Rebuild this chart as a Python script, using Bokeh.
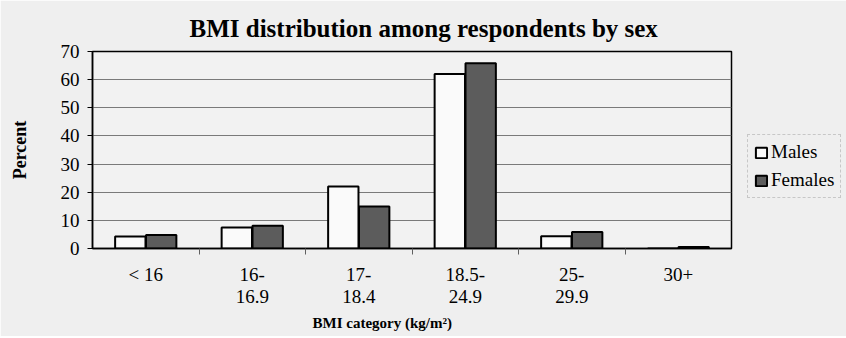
import numpy as np
from bokeh.plotting import figure
from bokeh.models import (ColumnDataSource, FixedTicker, Range1d, Legend, LegendItem, Title)
from bokeh.embed import file_html
from bokeh.resources import INLINE

# ---- data ----
categories = ["< 16", "16-\n16.9", "17-\n18.4", "18.5-\n24.9", "25-\n29.9", "30+"]
males = [4.3, 7.5, 22.0, 62.0, 4.35, 0.0]
females = [4.8, 8.1, 14.9, 65.8, 5.9, 0.5]
series_names = ["Males", "Females"]
y_ticks = [0, 10, 20, 30, 40, 50, 60, 70]

FONT = "Liberation Serif"
BG = "#efefef"

idx = np.arange(len(categories))
centers = idx + 0.5
off = 0.145
bw = 0.285

p = figure(frame_width=639, frame_height=197, output_backend="svg", toolbar_location=None,
           x_range=Range1d(0, len(categories)), y_range=Range1d(0, 70),
           min_border_left=92, min_border_right=115, min_border_top=51,
           min_border_bottom=88)
p.background_fill_color = "#f2f2f2"
p.border_fill_color = BG
p.outline_line_color = "black"
p.outline_line_width = 1.5

src_m = ColumnDataSource(dict(x=centers - off, top=males))
src_f = ColumnDataSource(dict(x=centers + off, top=females))
rm = p.vbar(x="x", top="top", width=bw, source=src_m, fill_color="#fafafa",
            line_color="black", line_width=2)
rf = p.vbar(x="x", top="top", width=bw, source=src_f, fill_color="#5c5c5c",
            line_color="black", line_width=2)

# grid
p.xgrid.grid_line_color = None
p.ygrid.grid_line_color = "#7a7a7a"
p.ygrid.grid_line_width = 1

# y axis
p.yaxis.ticker = FixedTicker(ticks=y_ticks)
p.yaxis.major_label_text_font = FONT
p.yaxis.major_label_text_font_size = "19px"
p.yaxis.major_label_text_color = "black"
p.yaxis.major_tick_out = 5
p.yaxis.major_tick_in = 0
p.yaxis.minor_tick_line_color = None
p.yaxis.axis_line_color = "black"
p.yaxis.axis_line_width = 1.5
p.yaxis.major_label_standoff = 8
p.yaxis.axis_label = "Percent"
p.yaxis.axis_label_text_font = FONT
p.yaxis.axis_label_text_font_style = "bold"
p.yaxis.axis_label_text_font_size = "18px"
p.yaxis.axis_label_text_color = "black"
p.yaxis.axis_label_standoff = 28

# x axis
p.xaxis.ticker = FixedTicker(ticks=list(centers), minor_ticks=list(range(1, len(categories))))
p.xaxis.major_label_overrides = {float(c): lab for c, lab in zip(centers, categories)}
p.xaxis.major_label_text_font = FONT
p.xaxis.major_label_text_font_size = "19px"
p.xaxis.major_label_text_color = "black"
p.xaxis.major_label_text_line_height = 1.05
p.xaxis.major_tick_line_color = None
p.xaxis.major_tick_out = 0
p.xaxis.minor_tick_out = 6
p.xaxis.minor_tick_in = 0
p.xaxis.minor_tick_line_color = "#606060"
p.xaxis.axis_line_color = "black"
p.xaxis.axis_line_width = 1.5
p.xaxis.major_label_standoff = 9

# x axis label as a title below, shifted left like the reference
xlab = Title(text="BMI category (kg/m²)", text_font=FONT, text_font_style="bold",
             text_font_size="15px", align="left", offset=220, text_color="black",
             standoff=6)
p.add_layout(xlab, "below")

# title
title = Title(text="BMI distribution among respondents by sex", text_font=FONT,
              text_font_style="bold", text_font_size="25px", align="left",
              offset=97, text_color="black", standoff=20)
p.add_layout(title, "above")

legend = Legend(items=[LegendItem(label=series_names[0], renderers=[rm]),
                       LegendItem(label=series_names[1], renderers=[rf])],
                location=(16, 50))
legend.label_text_font = FONT
legend.label_text_font_size = "19px"
legend.label_text_color = "black"
legend.glyph_width = 14
legend.glyph_height = 13
legend.label_standoff = 3
legend.spacing = 6
legend.padding = 6
legend.margin = 0
legend.border_line_color = "#a0a0a0"
legend.border_line_width = 1
legend.border_line_dash = "2 1"
legend.background_fill_color = BG
legend.background_fill_alpha = 1
p.add_layout(legend, "right")

open("out.html", "w").write(file_html(p, INLINE))
